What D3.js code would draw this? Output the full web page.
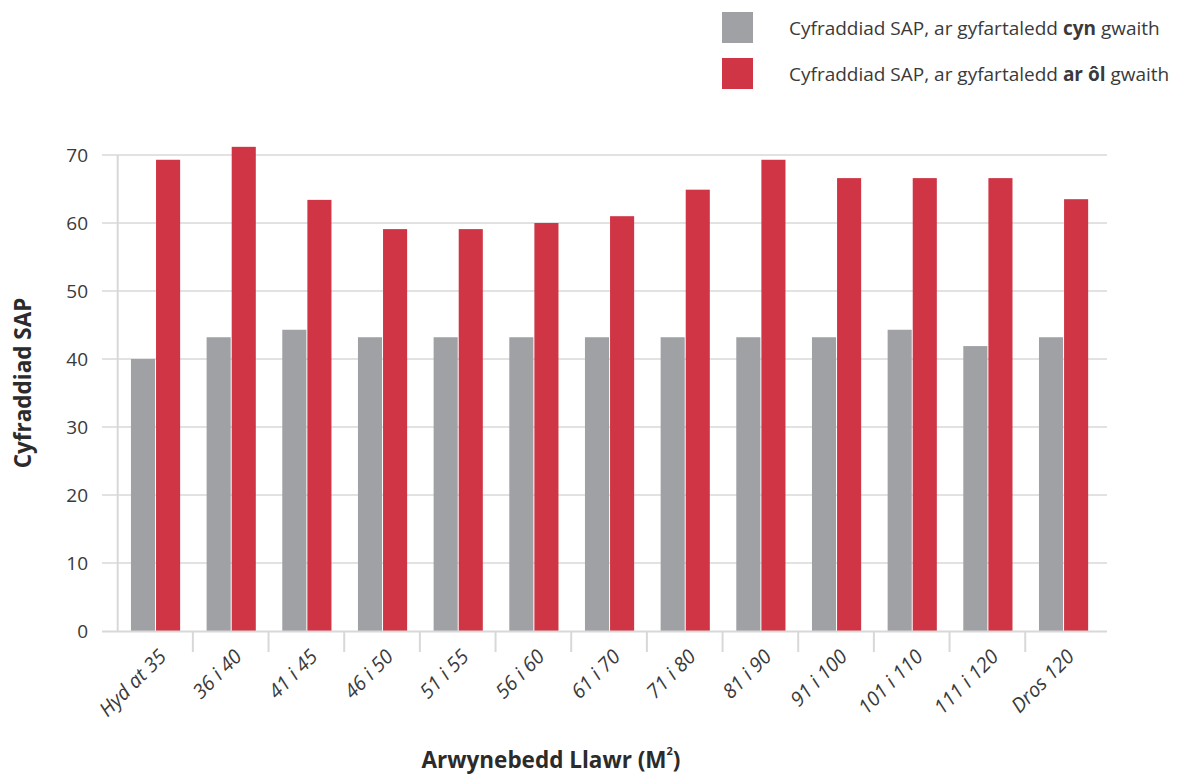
<!DOCTYPE html>
<html>
<head>
<meta charset="utf-8">
<script src="https://cdn.jsdelivr.net/npm/d3@7"></script>
<style>
  html, body { margin: 0; padding: 0; background: #fff; }
  svg { display: block; font-family: "Open Sans", "Noto Sans", sans-serif; }
</style>
</head>
<body>
<svg id="chart" width="1185" height="777"></svg>
<script>
const categories = ["Hyd at 35", "36 i 40", "41 i 45", "46 i 50", "51 i 55", "56 i 60", "61 i 70", "71 i 80", "81 i 90", "91 i 100", "101 i 110", "111 i 120", "Dros 120"];
const before = [40.0, 43.2, 44.3, 43.2, 43.2, 43.2, 43.2, 43.2, 43.2, 43.2, 44.3, 41.9, 43.2];
const after  = [69.3, 71.2, 63.4, 59.1, 59.1, 60.0, 61.0, 64.9, 69.3, 66.6, 66.6, 66.6, 63.5];
const yTicks = [0, 10, 20, 30, 40, 50, 60, 70];
const seriesKeys = ["before", "after"];
const seriesColors = ["#a0a1a5", "#cf3544"];

const svg = d3.select("#chart");
const plotLeft = 117.7, plotRight = 1101.4, plotTop = 155, plotBottom = 631;
const textColor = "#3a3a3a";
const gridColor = "#d8d8d8";

const x0 = d3.scaleBand().domain(categories).range([plotLeft, plotRight]).paddingInner(0.35).paddingOuter(0.175);
const x1 = d3.scaleBand().domain(seriesKeys).range([0, x0.bandwidth()]).paddingInner(0.04);
const y = d3.scaleLinear().domain([0, 70]).range([plotBottom, plotTop]);
const color = d3.scaleOrdinal().domain(seriesKeys).range(seriesColors);

// gridlines
svg.append("g").selectAll("line").data(yTicks.filter(d => d > 0)).join("line")
  .attr("x1", 102).attr("x2", 1107)
  .attr("y1", d => y(d)).attr("y2", d => y(d))
  .attr("stroke", gridColor).attr("stroke-width", 1.5);

// y axis vertical line
svg.append("line").attr("x1", plotLeft).attr("x2", plotLeft).attr("y1", y(70)).attr("y2", y(0))
  .attr("stroke", gridColor).attr("stroke-width", 2);

// y tick labels
svg.append("g").selectAll("text").data(yTicks).join("text")
  .attr("x", 88).attr("y", d => y(d)).attr("dy", "0.35em")
  .attr("text-anchor", "end").attr("fill", textColor)
  .style("font-size", "19px").text(d => d);

// bars
const rows = categories.map((c, i) => ({ cat: c, before: before[i], after: after[i] }));
const groups = svg.append("g").selectAll("g").data(rows).join("g")
  .attr("transform", d => `translate(${x0(d.cat)},0)`);
groups.selectAll("rect").data(d => seriesKeys.map(k => ({ key: k, value: d[k] }))).join("rect")
  .attr("x", d => x1(d.key)).attr("width", x1.bandwidth())
  .attr("y", d => y(d.value)).attr("height", d => y(0) - y(d.value))
  .attr("fill", d => color(d.key));

// x axis baseline
svg.append("line").attr("x1", 102).attr("x2", 1107).attr("y1", y(0) + 0.5).attr("y2", y(0) + 0.5)
  .attr("stroke", gridColor).attr("stroke-width", 2);

// x ticks at internal boundaries
const step = x0.step();
svg.append("g").selectAll("line").data(categories.slice(1)).join("line")
  .attr("x1", d => x0(d) - x0.paddingInner() * step / 2 - 0.5)
  .attr("x2", d => x0(d) - x0.paddingInner() * step / 2 - 0.5)
  .attr("y1", y(0)).attr("y2", y(0) + 21)
  .attr("stroke", gridColor).attr("stroke-width", 2);

// x tick labels
svg.append("g").selectAll("text").data(categories).join("text")
  .attr("transform", d => `translate(${x0(d) + x0.bandwidth() / 2 + 7},${y(0) + 22}) rotate(-45)`)
  .attr("text-anchor", "end").attr("dy", "0.35em")
  .attr("fill", textColor).style("font-size", "20px").style("font-style", "italic")
  .text(d => d);

// axis titles
svg.append("text")
  .attr("transform", `translate(31,383) rotate(-90)`)
  .attr("text-anchor", "middle").attr("fill", "#2b2b2b")
  .style("font-size", "22.5px").style("font-weight", "bold")
  .text("Cyfraddiad SAP");

const xt = svg.append("text").attr("x", 551).attr("y", 768)
  .attr("text-anchor", "middle").attr("fill", "#2b2b2b")
  .style("font-size", "22.5px").style("font-weight", "bold");
xt.append("tspan").text("Arwynebedd Llawr (M");
xt.append("tspan").attr("dy", -13).style("font-size", "11px").text("2");
xt.append("tspan").attr("dy", 13).text(")");

// legend
const legendItems = [
  { parts: [["Cyfraddiad SAP, ar gyfartaledd ", false], ["cyn", true], [" gwaith", false]], c: seriesColors[0] },
  { parts: [["Cyfraddiad SAP, ar gyfartaledd ", false], ["ar ôl", true], [" gwaith", false]], c: seriesColors[1] }
];
const lg = svg.append("g").selectAll("g").data(legendItems).join("g")
  .attr("transform", (d, i) => `translate(722,${12 + i * 46})`);
lg.append("rect").attr("width", 31).attr("height", 31).attr("fill", d => d.c);
const lt = lg.append("text").attr("x", 67).attr("y", 16).attr("dy", "0.35em")
  .attr("fill", textColor).style("font-size", "19px");
lt.selectAll("tspan").data(d => d.parts).join("tspan")
  .style("font-weight", d => d[1] ? "bold" : "normal")
  .text(d => d[0]);
</script>
</body>
</html>
